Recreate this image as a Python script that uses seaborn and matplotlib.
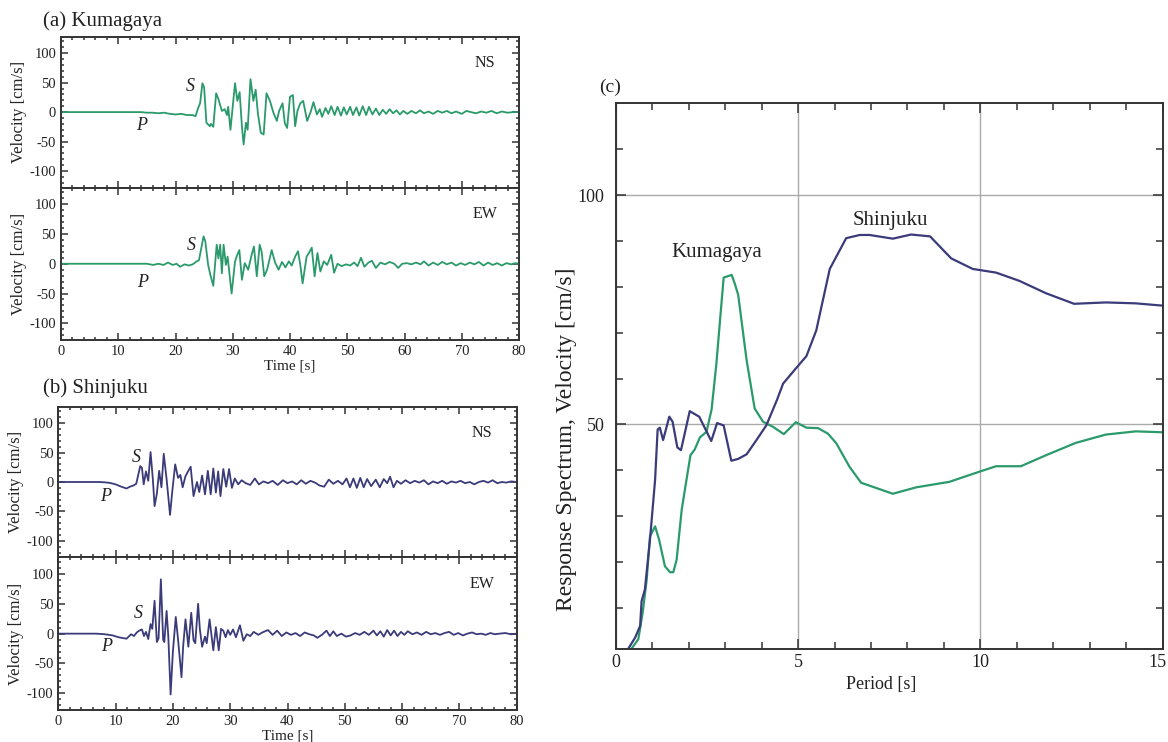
import numpy as np
import matplotlib
matplotlib.use("Agg")
import matplotlib.pyplot as plt
import matplotlib.transforms as mtransforms
import seaborn as sns

# --- seismograms (time [s], velocity [cm/s]) ---
kum_ns = [(0, 0), (14, 0), (15, -1), (16, -1), (17, -2), (18, -1), (19, -3), (20, -4), (21, -3), (22, -5),
          (23, -5), (23.5, -7), (24.0, 8), (24.3, 15), (24.7, 49), (25.0, 42), (25.4, -18), (26.0, -24),
          (26.2, -20), (26.6, -25), (27.1, 32), (27.5, 22), (28.1, 2), (28.6, 5), (29.0, -5), (29.2, 9),
          (29.6, -30), (30.0, 10), (30.4, 49), (30.8, 19), (31.2, 34), (31.6, -24), (31.9, -55), (32.3, -18),
          (32.6, -30), (33.1, 56), (33.6, 19), (34.0, 38), (34.4, -3), (34.9, -35), (35.4, -38), (35.9, 32),
          (36.5, 19), (37.1, -1), (37.7, -15), (38.1, 2), (38.7, 15), (39.1, -19), (39.5, -27), (40.0, 26),
          (40.5, 29), (40.9, -24), (41.3, 2), (41.8, 15), (42.3, 19), (43.0, -15), (43.6, 0), (44.1, 17),
          (44.7, -4), (45.2, 5), (45.6, -8), (46.2, 7), (46.7, -3), (47.2, 10), (47.8, -5), (48.3, 9),
          (48.9, -6), (49.4, 8), (49.9, -4), (50.5, 9), (51.0, -5), (51.6, 8), (52.1, -6), (52.7, 10),
          (53.3, -5), (53.8, 9), (54.4, -4), (55.0, 6), (55.6, -5), (56.2, 4), (56.8, -3), (57.4, 5),
          (58.0, -2), (58.6, 3), (59.2, -4), (59.8, 2), (60.5, -3), (61.2, 2), (62.0, -2), (62.7, 3),
          (63.4, -2), (64.2, 1), (65.0, -3), (65.8, 2), (66.6, -1), (67.4, 2), (68.2, -2), (69.0, 1),
          (70.0, -3), (70.8, 2), (71.6, 0), (72.5, -2), (73.4, 1), (74.3, -1), (75.2, 2), (76.1, -2),
          (77.0, 1), (78.0, -1), (79.0, 0), (80, 0)]

kum_ew = [(0, 0), (15, 0), (16.1, -2), (17.0, 0), (17.9, -2), (18.7, 2), (19.5, -2), (20.2, 0), (20.8, -5),
          (21.6, -1), (22.3, -3), (23.0, -1), (23.7, 4), (24.1, 6), (24.9, 46), (25.2, 38), (25.7, -2),
          (26.1, -19), (26.6, -37), (27.2, 32), (27.5, 9), (27.8, 32), (28.1, -16), (28.4, 32), (28.8, -2),
          (29.1, 12), (29.8, -50), (30.4, 4), (30.8, 15), (31.15, 23), (31.6, -27), (32.1, 1), (32.7, -10),
          (33.3, 15), (33.7, 29), (34.2, -21), (34.7, 32), (35.05, 20), (35.5, -21), (36.0, -10), (36.8, 23),
          (37.4, 2), (38.0, -10), (38.6, 3), (39.2, -6), (39.8, 4), (40.3, -3), (40.9, 12), (41.4, 21),
          (41.8, -2), (42.2, -33), (42.9, 12), (43.3, 18), (43.8, 27), (44.3, -21), (44.8, 18), (45.3, -13),
          (45.9, 4), (46.5, -2), (47.2, 15), (47.7, -15), (48.3, 0), (49.0, -4), (49.8, -1), (50.5, -3),
          (51.2, 2), (51.8, -4), (52.4, 10), (53.0, -5), (53.7, 2), (54.3, 5), (55.0, -7), (55.8, 2),
          (56.6, -1), (57.4, 3), (58.2, 0), (58.9, -7), (59.6, 0), (60.4, 1), (61.2, -1), (62.0, 2),
          (62.8, -1), (63.4, 4), (64.2, -3), (65.0, 2), (65.8, -2), (66.6, 3), (67.4, -1), (68.2, 2),
          (69.0, -3), (69.8, 1), (70.6, -2), (71.4, 2), (72.2, -1), (73.0, 3), (73.8, -3), (74.6, 2),
          (75.4, -2), (76.2, 1), (77.0, -3), (77.8, 1), (78.6, -1), (79.4, 1), (80, 0)]

shi_ns = [(0, 0), (7, 0), (8, -0.5), (9, -1.5), (10, -4), (11, -8), (11.9, -11), (12.5, -8), (13.1, -6),
          (13.6, -3), (14.3, 27), (14.6, 24), (14.9, -4), (15.3, 18), (15.7, 2), (16.1, 51), (16.5, 5),
          (16.8, -41), (17.2, -20), (17.6, 19), (18.0, -9), (18.4, 48), (18.9, 5), (19.5, -56), (19.9, -15),
          (20.4, 30), (20.9, 7), (21.3, 12), (21.7, -9), (22.2, 10), (22.7, 19), (23.1, 26), (23.6, -24),
          (24.2, 0), (24.6, -17), (25.1, 11), (25.6, -21), (26.1, 19), (26.6, -21), (27.05, 23), (27.5, -18),
          (27.9, 18), (28.3, -24), (28.8, 22), (29.3, -8), (29.8, 22), (30.3, -10), (30.8, 6), (31.4, -4),
          (32.0, 3), (32.7, -2), (33.5, -5), (34.3, 6), (35.0, -4), (35.8, 1), (36.6, -2), (37.4, 2),
          (38.3, -5), (39.2, 3), (40.0, -2), (40.8, 1), (41.6, -4), (42.4, 3), (43.2, -3), (44.0, 2),
          (44.8, -1), (45.6, -6), (46.4, -8), (47.2, 4), (48.0, -3), (48.8, 2), (49.6, -4), (50.3, 6),
          (50.9, -9), (51.5, 6), (52.1, -10), (52.7, 7), (53.3, -9), (53.9, 5), (54.6, -7), (55.4, 4),
          (56.1, -9), (56.8, 5), (57.4, -2), (57.9, 9), (58.5, -9), (59.1, 2), (59.8, -3), (60.6, 3),
          (61.4, -2), (62.2, 2), (63.0, -1), (63.8, 3), (64.6, -4), (65.4, 1), (66.2, -2), (67.0, 2),
          (67.8, -3), (68.6, 1), (69.4, -1), (70.2, 2), (71.0, -2), (71.8, 0), (72.6, -4), (73.4, 0),
          (74.2, 2), (75.0, -1), (75.8, 3), (76.6, -2), (77.4, 0), (78.2, -1), (79.0, 1), (80, 0)]

shi_ew = [(0, 0), (6.5, 0), (7.5, -0.5), (8.5, -1.5), (9.5, -3), (10.5, -6), (11.9, -8.5), (12.7, -1),
          (13.2, -4), (13.7, 2), (14.1, 5), (14.6, 7), (14.95, -4), (15.3, 3), (15.7, -9), (16.1, 16),
          (16.4, 8), (16.8, 55), (17.2, -14), (17.5, -8), (17.9, 91), (18.3, -10), (18.5, -14), (18.9, 38),
          (19.2, -5), (19.6, -102), (20.0, -30), (20.5, 28), (20.9, -10), (21.5, -73), (21.8, -20),
          (22.2, 24), (22.7, -22), (23.2, 35), (23.6, -11), (23.9, -16), (24.4, 50), (24.7, 8), (25.1, -22),
          (25.6, -5), (25.9, -16), (26.4, 24), (26.7, 0), (27.05, -28), (27.5, 11), (28.0, -28), (28.4, 8),
          (28.8, 5), (29.2, -6), (29.6, 6), (30.0, -2), (30.5, 7), (31.0, -6), (31.7, 14), (32.3, -12),
          (32.9, -1), (33.5, -4), (34.1, 3), (34.9, -2), (35.6, 2), (36.6, 6), (37.4, -2), (38.2, 5),
          (39.0, -4), (39.8, 2), (40.6, -2), (41.4, 1), (42.2, -4), (43.0, 2), (43.8, -1), (44.6, -3),
          (45.2, -7), (46.0, -2), (46.8, 5), (47.4, -4), (48.0, 4), (48.6, -4), (49.4, 0), (50.2, -5),
          (51.0, -3), (51.8, 1), (52.6, -2), (53.4, 3), (54.2, -2), (55.0, 5), (55.6, -3), (56.2, 4),
          (56.8, -5), (57.4, 6), (58.0, -3), (58.6, 5), (59.2, -4), (59.8, 3), (60.4, -2), (61.0, 4),
          (61.8, -1), (62.6, 2), (63.4, -2), (64.2, 3), (65.0, -1), (65.8, 1), (66.6, -2), (67.4, 1),
          (68.2, 3), (69.0, -2), (69.8, 1), (70.6, -3), (71.4, 0), (72.2, 2), (73.0, -1), (73.8, 0),
          (74.6, -2), (75.4, 1), (76.2, -1), (77.0, 0), (78.0, 1), (79.0, -1), (80, 0)]

# --- response spectra (period [s], velocity [cm/s]) ---
shi_period = [0.35, 0.53, 0.67, 0.71, 0.80, 0.94, 1.08, 1.15, 1.21, 1.30, 1.47, 1.56, 1.69, 1.79, 2.03,
              2.29, 2.62, 2.78, 2.96, 3.17, 3.36, 3.59, 3.86, 4.13, 4.42, 4.59, 4.95, 5.23, 5.50, 5.87,
              6.32, 6.69, 6.96, 7.60, 8.10, 8.62, 9.20, 9.79, 10.43, 11.07, 11.80, 12.57, 13.44, 14.26, 15.0]
shi_vel = [1.2, 3.5, 6.1, 11.5, 14.0, 24.9, 37.9, 48.9, 49.3, 46.6, 51.7, 50.6, 45.0, 44.4, 52.9,
           51.7, 46.4, 50.3, 49.8, 42.1, 42.5, 43.5, 46.6, 49.8, 55.3, 58.9, 62.3, 64.9, 70.5, 83.9,
           90.6, 91.3, 91.3, 90.5, 91.4, 91.0, 86.2, 83.9, 83.1, 81.3, 78.6, 76.3, 76.6, 76.4, 75.9]

kum_period = [0.44, 0.62, 0.74, 0.85, 0.94, 1.08, 1.19, 1.35, 1.49, 1.58, 1.67, 1.81, 1.94, 2.05, 2.17,
              2.31, 2.49, 2.63, 2.76, 2.96, 3.18, 3.27, 3.36, 3.59, 3.81, 4.04, 4.31, 4.61, 4.94, 5.23,
              5.55, 5.82, 6.05, 6.41, 6.73, 7.60, 8.24, 9.15, 9.97, 10.43, 11.11, 11.80, 12.62, 13.44,
              14.26, 15.0]
kum_vel = [1.2, 3.2, 9.0, 16.2, 25.6, 27.8, 24.9, 19.1, 17.8, 17.8, 20.5, 31.4, 37.9, 43.3, 44.6,
           47.2, 48.4, 53.3, 63.2, 82.0, 82.6, 80.6, 78.2, 64.0, 53.5, 50.6, 49.5, 47.9, 50.5, 49.3,
           49.2, 48.0, 45.9, 40.8, 37.3, 34.9, 36.3, 37.5, 39.7, 40.9, 40.9, 43.3, 46.0, 47.8, 48.5, 48.3]

GREEN = "#2a9a6c"
NAVY = "#3b3b7a"
INK = "#222222"

sns.set_theme(style="ticks")
plt.rcParams['font.family'] = ['Liberation Serif', 'DejaVu Serif']
plt.rcParams['axes.edgecolor'] = "#333333"
plt.rcParams['axes.linewidth'] = 1.4
plt.rcParams['axes.unicode_minus'] = False

W, H = 1168, 742
fig = plt.figure(figsize=(W / 100, H / 100), dpi=100)


def box(left, top, right, bottom):
    # pixel box -> figure fraction
    return [left / W, 1 - bottom / H, (right - left) / W, (bottom - top) / H]


def trace_axes(rect, data, color, comp, s_xy, p_xy, xlabels):
    ax = fig.add_axes(rect)
    t = [d[0] for d in data]
    v = [d[1] for d in data]
    sns.lineplot(x=t, y=v, ax=ax, color=color, lw=1.3, estimator=None, sort=False)
    ax.set_xlim(0, 80)
    ax.set_ylim(-128, 128)
    ax.set_xticks(range(0, 81, 10))
    ax.set_xticks(range(0, 81, 2), minor=True)
    ax.set_yticks([-100, -50, 0, 50, 100])
    ax.set_yticks(range(-120, 121, 10), minor=True)
    ax.tick_params(which='both', direction='in', top=True, right=True, colors="#333333",
                   labelcolor=INK, labelsize=10.5, width=1.1)
    ax.tick_params(which='major', length=5)
    ax.tick_params(which='minor', length=2.5)
    if not xlabels:
        ax.tick_params(axis='x', labelbottom=False)
    ax.set_ylabel("Velocity [cm/s]", fontsize=12, color=INK, labelpad=2)
    ax.text(74, 83, comp, ha='center', va='center', fontsize=11.5, color=INK)
    ax.text(s_xy[0], s_xy[1], "S", ha='center', va='center', fontsize=13, style='italic', color=INK)
    ax.text(p_xy[0], p_xy[1], "P", ha='center', va='center', fontsize=13, style='italic', color=INK)
    return ax


trace_axes(box(61, 36.7, 519, 187.5), kum_ns, GREEN, "NS", (22.5, 44), (14, -23), False)
ax = trace_axes(box(61, 187.5, 519, 340), kum_ew, GREEN, "EW", (22.7, 30), (14.2, -32), True)
ax.set_xlabel("Time [s]", fontsize=11, color=INK, labelpad=1)
fig.text(43 / W, 1 - 21 / H, "(a) Kumagaya", fontsize=15, color=INK, va='center', ha='left')

trace_axes(box(58.3, 406.7, 516.7, 557.3), shi_ns, NAVY, "NS", (13.6, 42), (8.3, -25), False)
ax = trace_axes(box(58.3, 557.3, 516.7, 710), shi_ew, NAVY, "EW", (13.9, 33), (8.5, -21), True)
ax.set_xlabel("Time [s]", fontsize=11, color=INK, labelpad=1)
fig.text(43 / W, 1 - 388 / H, "(b) Shinjuku", fontsize=15, color=INK, va='center', ha='left')

# --- (c) response spectrum ---
cl, ct, cr, cb = 615.7, 103.3, 1162.7, 649.3
axc = fig.add_axes(box(cl, ct, cr, cb))
sns.lineplot(x=kum_period, y=kum_vel, ax=axc, color=GREEN, lw=1.6, estimator=None, sort=False)
sns.lineplot(x=shi_period, y=shi_vel, ax=axc, color=NAVY, lw=1.6, estimator=None, sort=False)
axc.set_xlim(0, 15)
axc.set_ylim(1, 120)
axc.set_xticks([0, 5, 10, 15])
axc.set_xticks(range(0, 16), minor=True)
axc.set_yticks([50, 100])
axc.set_yticks(range(10, 120, 10), minor=True)
axc.grid(True, which='major', color="#aaaaaa", lw=1.0)
axc.set_axisbelow(True)
axc.tick_params(which='both', direction='in', top=True, right=True, colors="#333333",
                labelcolor=INK, labelsize=13, width=1.1)
axc.tick_params(which='major', length=7)
axc.tick_params(which='minor', length=5)
axc.tick_params(axis='y', pad=8)
# last x label sits on the figure edge: nudge it left a little
last = axc.get_xticklabels()[-1]
last.set_transform(last.get_transform() + mtransforms.ScaledTranslation(-5 / 100, 0, fig.dpi_scale_trans))
axc.set_xlabel("Period [s]", fontsize=13, color=INK)
axc.xaxis.set_label_coords((881 - cl) / (cr - cl), -(676 - cb) / (cb - ct))
axc.set_ylabel("Response Spectrum, Velocity [cm/s]", fontsize=17, color=INK)
axc.yaxis.set_label_coords(-(cl - 577) / (cr - cl), (cb - 439) / (cb - ct))
axc.text(2.77, 87.4, "Kumagaya", ha='center', va='center', fontsize=15, color=INK)
axc.text(7.54, 94.4, "Shinjuku", ha='center', va='center', fontsize=15, color=INK)
fig.text(610 / W, 1 - 87 / H, "(c)", fontsize=14, color=INK, va='center', ha='center')

fig.savefig("out.png", dpi=100)
